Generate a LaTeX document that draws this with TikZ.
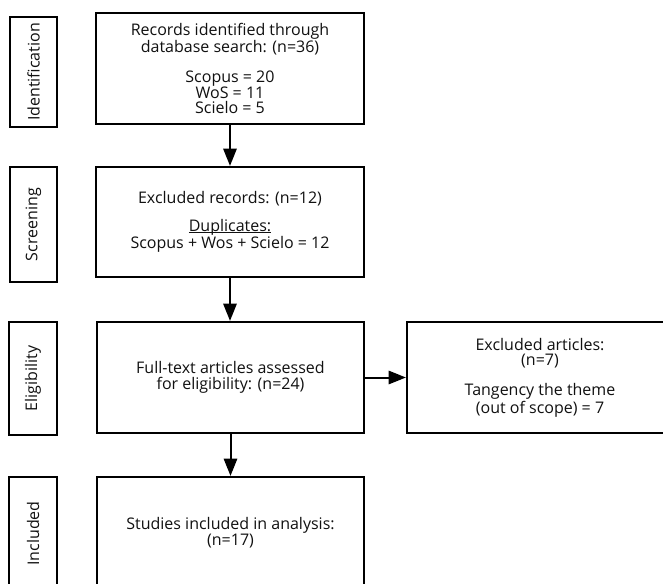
\documentclass[tikz,border=0pt]{standalone}
\usepackage{fontspec}
\setmainfont{Open Sans}
\usetikzlibrary{arrows.meta}
\definecolor{ink}{HTML}{111111}
\newcommand\myul[1]{\setbox0\hbox{#1}\rlap{\rule[-1.6pt]{\wd0}{0.7pt}}#1}
\tikzset{
  box/.style={draw=black, line width=1.6pt, rectangle, inner sep=0pt, align=center,
    text=ink, font=\fontsize{12}{11.6}\selectfont},
  lab/.style={box, rotate=90},
  arr/.style={draw=black, line width=1.5pt, -{Triangle[length=13pt,width=10pt]}}
}
\begin{document}
\begin{tikzpicture}[x=0.75pt,y=-0.75pt]
\useasboundingbox (0,0) rectangle (663,584);
\clip (0,0) rectangle (663,584);
\fill[white] (0,0) rectangle (663,584);
% stage labels
\node[lab, minimum width=82.5pt, minimum height=35.25pt] (l1) at (33.5,72) {Identification};
\node[lab, minimum width=86.25pt, minimum height=35.25pt] (l2) at (33.5,224.5) {Screening};
\node[lab, minimum width=84.75pt, minimum height=36pt] (l3) at (33,378.5) {Eligibility};
\node[lab, minimum width=84.75pt, minimum height=36pt] (l4) at (33,533.5) {Included};
% boxes
\node[box, minimum width=201pt, minimum height=83.25pt] (b1) at (230,68.5)
  {Records identified through\\database search: (n=36)\\[11pt]Scopus = 20\\WoS = 11\\Scielo = 5};
\node[box, minimum width=201pt, minimum height=82.5pt] (b2) at (230,222)
  {Excluded records: (n=12)\\[9pt]\myul{Duplicates:}\\Scopus + Wos + Scielo = 12};
\node[box, minimum width=200.25pt, minimum height=83.25pt] (b3) at (230.5,377.5)
  {Full-text articles assessed\\for eligibility: (n=24)};
\node[box, minimum width=199.5pt, minimum height=83.25pt] (b4) at (540,377.5)
  {Excluded articles:\\(n=7)\\[11pt]Tangency the theme\\(out of scope) = 7};
\node[box, minimum width=200.25pt, minimum height=83.25pt] (b5) at (230.5,532.5)
  {Studies included in analysis:\\(n=17)};
% connectors
\draw[arr] (b1.south) -- (b1.south |- b2.north);
\draw[arr] (b2.south) -- (b2.south |- b3.north);
\draw[arr] (b3.east) -- (b4.west);
\draw[arr] (b3.south) -- (b5.north);
\end{tikzpicture}
\end{document}
